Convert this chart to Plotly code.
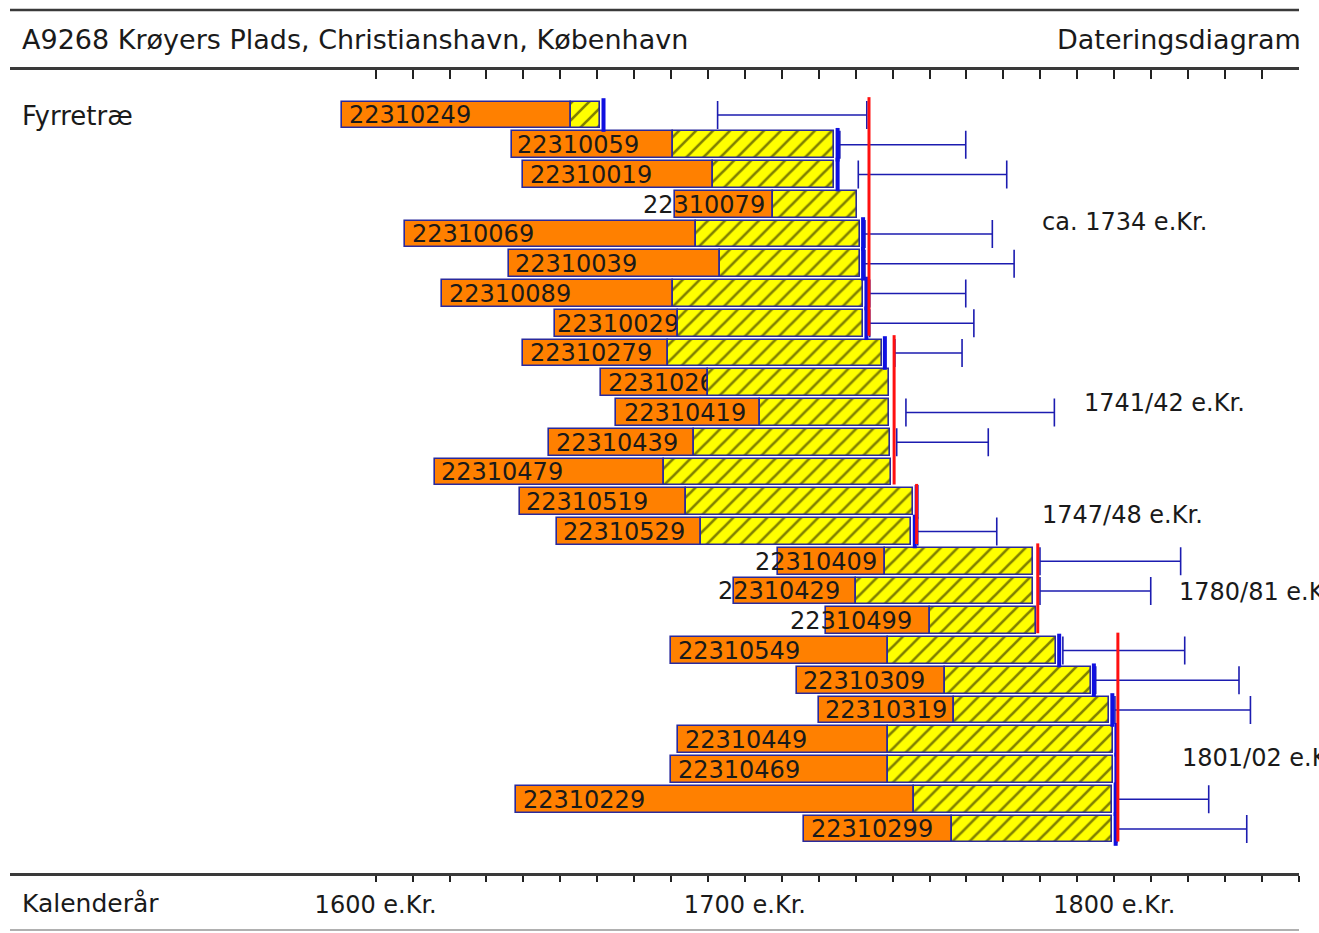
import plotly.graph_objects as go

# ---------------- data (years) ----------------
samples = ["22310249", "22310059", "22310019", "22310079", "22310069", "22310039",
           "22310089", "22310029", "22310279", "22310269", "22310419", "22310439",
           "22310479", "22310519", "22310529", "22310409", "22310429", "22310499",
           "22310549", "22310309", "22310319", "22310449", "22310469", "22310229",
           "22310299"]
first_year = [1591, 1637, 1640, 1681, 1608, 1636, 1618, 1648.6, 1640, 1661, 1665, 1647,
              1616, 1639, 1649, 1709, 1697, 1722, 1680, 1714, 1720, 1682, 1680, 1638, 1716]
heartwood_end = [1653, 1680.4, 1691.3, 1707.6, 1686.7, 1693.2, 1680.4, 1681.9, 1679.2, 1690.1,
                 1704.1, 1686.3, 1678.1, 1684, 1688, 1737.9, 1730.2, 1750.1, 1738.8, 1754.2,
                 1756.6, 1738.8, 1738.8, 1745.8, 1756.2]
last_year = [1660.8, 1724.2, 1724.2, 1730.4, 1731.1, 1731.1, 1732, 1732, 1737, 1739, 1739,
             1739.3, 1739.5, 1745.6, 1745.1, 1778.1, 1778.1, 1778.8, 1784.2, 1793.6, 1798.6,
             1799.7, 1799.7, 1799.5, 1799.5]
label_year = [1592, 1637.5, 1641, 1671.6, 1609, 1637, 1619, 1648.4, 1641, 1662, 1666.5, 1648,
              1617, 1640, 1650, 1701.9, 1692, 1711.4, 1681, 1715, 1721, 1683, 1681, 1639, 1717]
range_lo = [1692.6, 1725.7, 1730.7, None, 1732.5, 1732.5, 1733.8, 1733.8, 1740.6, None,
            1743.6, 1741.1, None, None, 1746.8, 1779.9, 1779.9, None, 1786.1, 1795.0,
            1800.2, None, None, 1800.7, 1800.7]
range_hi = [1733.0, 1759.8, 1770.9, None, 1767.0, 1772.9, 1759.8, 1762.0, 1758.8, None,
            1783.8, 1765.9, None, None, 1768.2, 1818.0, 1809.9, None, 1819.1, 1833.8,
            1836.9, None, None, 1825.6, 1835.9]
edge_mark = [1, 1, 1, 0, 1, 1, 1, 1, 1, 0, 0, 0, 0, 1, 1, 0, 0, 0, 1, 1, 1, 1, 1, 1, 1]

fell_year = [1733.6, 1740.4, 1746.5, 1779.3, 1801.0]
fell_label = ["ca. 1734 e.Kr.", "1741/42 e.Kr.", "1747/48 e.Kr.", "1780/81 e.Kr.", "1801/02 e.Kr."]
group_first = [0, 8, 13, 15, 18]
group_last = [7, 12, 14, 17, 24]

tick_years = list(range(1600, 1851, 10))
tick_text = [f"{y} e.Kr." if y % 100 == 0 else "" for y in tick_years]

# ---------------- layout constants ----------------
W, H = 1319, 933
FONT = "DejaVu Sans"
ORANGE = "#FF8000"
YELLOW = "#FFFF00"
OUTLINE = "#2a2a9c"
BLUE = "#1c1cb0"
RED = "#FF1010"
TXT = "#1a1a1a"
label_pos = [(1779.9, 3.6), (1791.3, 9.68), (1779.9, 13.45), (1817.1, 16.03), (1817.9, 21.6)]

rows = list(range(len(samples)))

fig = go.Figure()

# heartwood (orange)
fig.add_trace(go.Bar(
    orientation="h", y=rows, base=first_year,
    x=[h - s for h, s in zip(heartwood_end, first_year)],
    width=0.9, marker=dict(color=ORANGE, line=dict(color=OUTLINE, width=1.6)),
    hoverinfo="skip", showlegend=False))

# sample labels (transparent carrier bar so later bars can cover the text)
fig.add_trace(go.Bar(
    orientation="h", y=rows, base=label_year, x=[60] * len(rows),
    width=0.9, marker=dict(color="rgba(0,0,0,0)", line=dict(width=0)),
    text=samples, textposition="inside", insidetextanchor="start", textangle=0,
    constraintext="none",
    insidetextfont=dict(family=FONT, size=24, color=TXT),
    hoverinfo="skip", showlegend=False))

# sapwood (yellow hatched)
fig.add_trace(go.Bar(
    orientation="h", y=rows, base=heartwood_end,
    x=[e - h for e, h in zip(last_year, heartwood_end)],
    width=0.9,
    marker=dict(color=YELLOW, line=dict(color=OUTLINE, width=1.6),
                pattern=dict(shape="/", fgcolor="#000000", size=12, solidity=0.22,
                             fillmode="overlay")),
    hoverinfo="skip", showlegend=False))

# felling range whiskers
wy, wx, wlen = [], [], []
for r, lo, hi in zip(rows, range_lo, range_hi):
    if lo is not None:
        wy.append(r); wx.append(lo); wlen.append(hi - lo)
fig.add_trace(go.Scatter(
    x=wx, y=wy, mode="markers",
    marker=dict(size=1, color="rgba(0,0,0,0)"),
    error_x=dict(type="data", array=wlen, arrayminus=[0] * len(wlen), symmetric=False,
                 color=BLUE, thickness=1.6, width=14),
    hoverinfo="skip", showlegend=False))

# bark-edge markers
mx = [e + 0.9 for e, m in zip(last_year, edge_mark) if m]
my = [r for r, m in zip(rows, edge_mark) if m]
fig.add_trace(go.Scatter(
    x=mx, y=my, mode="markers",
    marker=dict(symbol="line-ns", size=24, line=dict(color="#1010e0", width=4)),
    hoverinfo="skip", showlegend=False))

# felling date lines
for fy, g0, g1 in zip(fell_year, group_first, group_last):
    fig.add_trace(go.Scatter(
        x=[fy, fy], y=[g0 - 0.6, g1 + 0.42], mode="lines",
        line=dict(color=RED, width=3), hoverinfo="skip", showlegend=False))

# empty trace for the top ruler axis
fig.add_trace(go.Scatter(x=[1700], y=[0], xaxis="x2", mode="markers",
                         marker=dict(size=1, color="rgba(0,0,0,0)"),
                         hoverinfo="skip", showlegend=False))

for (lx, ly), txt in zip(label_pos, fell_label):
    fig.add_annotation(x=lx, y=ly, xref="x", yref="y", text=txt, showarrow=False,
                       xanchor="left", yanchor="middle",
                       font=dict(family=FONT, size=24, color=TXT))

def py(px):
    return (H - px) / H

def pxx(px):
    return px / W

# header / footer texts
fig.add_annotation(x=pxx(20), y=py(40), xref="paper", yref="paper",
                   text="A9268 Krøyers Plads, Christianshavn, København", showarrow=False,
                   xanchor="left", yanchor="middle", font=dict(family=FONT, size=27, color=TXT))
fig.add_annotation(x=pxx(1303), y=py(40), xref="paper", yref="paper",
                   text="Dateringsdiagram", showarrow=False,
                   xanchor="right", yanchor="middle", font=dict(family=FONT, size=27, color=TXT))
fig.add_annotation(x=pxx(20), y=py(116), xref="paper", yref="paper",
                   text="Fyrretræ", showarrow=False,
                   xanchor="left", yanchor="middle", font=dict(family=FONT, size=26, color=TXT))
fig.add_annotation(x=pxx(20), y=py(903), xref="paper", yref="paper",
                   text="Kalenderår", showarrow=False,
                   xanchor="left", yanchor="middle", font=dict(family=FONT, size=25, color=TXT))

# horizontal rules
fig.add_shape(type="line", xref="paper", yref="paper", x0=pxx(10), x1=pxx(1299),
              y0=py(10), y1=py(10), line=dict(color="#3a3a3a", width=2.5))
fig.add_shape(type="line", xref="paper", yref="paper", x0=pxx(10), x1=pxx(1299),
              y0=py(930), y1=py(930), line=dict(color="#b0b0b0", width=2))

x_range = [1500.97, 1850.05]
x_dom = [pxx(10), pxx(1299)]
y_dom = [py(873), py(70)]

fig.update_layout(
    width=W, height=H, autosize=False,
    margin=dict(l=0, r=0, t=0, b=0),
    paper_bgcolor="white", plot_bgcolor="white",
    barmode="overlay", bargap=0,
    showlegend=False,
    xaxis=dict(domain=x_dom, range=x_range, showgrid=False, zeroline=False,
               showline=True, linecolor="#3a3a3a", linewidth=2.5,
               tickmode="array", tickvals=tick_years, ticktext=tick_text,
               ticks="outside", ticklen=6, tickwidth=1.5, tickcolor="#222",
               ticklabelstandoff=2,
               tickfont=dict(family=FONT, size=24, color=TXT), anchor="y"),
    xaxis2=dict(domain=x_dom, range=x_range, overlaying="x", side="top", anchor="y",
                showgrid=False, zeroline=False, showline=True, linecolor="#3a3a3a",
                linewidth=2.5, tickmode="array", tickvals=tick_years, ticks="inside",
                ticklen=9, tickwidth=1.5, tickcolor="#222", showticklabels=False),
    yaxis=dict(domain=y_dom, range=[25.479, -1.513], showgrid=False, zeroline=False,
               showline=False, showticklabels=False, ticks=""),
)

fig.write_html("out.html", config={"displayModeBar": False},
               post_script="document.body.style.margin='0';document.body.style.overflow='hidden';")
